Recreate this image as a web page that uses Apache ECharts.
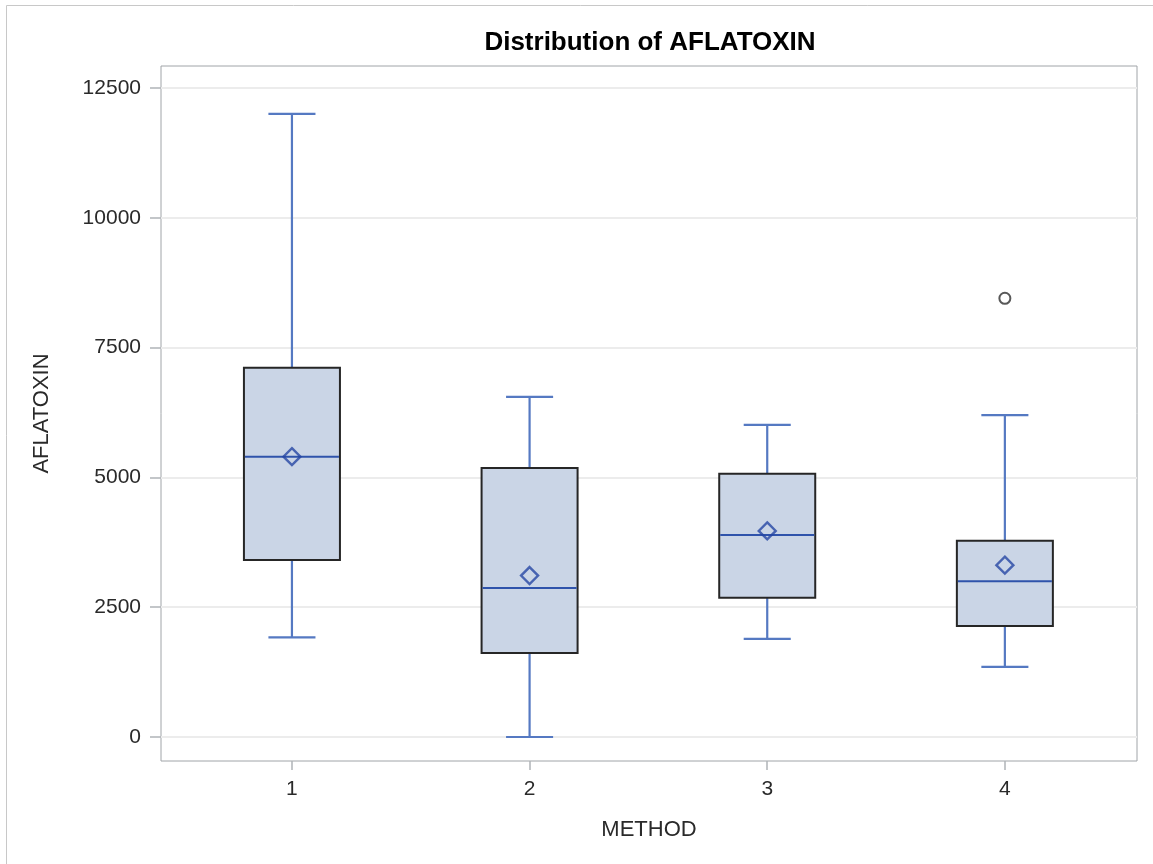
<!DOCTYPE html>
<html>
<head>
<meta charset="utf-8">
<script src="https://cdn.jsdelivr.net/npm/echarts@6/dist/echarts.min.js"></script>
<style>
html,body{margin:0;padding:0;background:#fff;}
#chart{width:1153px;height:864px;}
</style>
</head>
<body>
<div id="chart"></div>
<script>
// ---- data ----
var categories = [1, 2, 3, 4];
var whiskerLow = [1920, 0, 1890, 1350];
var q1 = [3410, 1620, 2680, 2140];
var median = [5400, 2870, 3890, 3000];
var q3 = [7110, 5180, 5070, 3780];
var whiskerHigh = [12000, 6550, 6010, 6200];
var mean = [5400, 3110, 3970, 3310];
var outlierMethod = [4];
var outlierValue = [8450];
var yTicks = [0, 2500, 5000, 7500, 10000, 12500];

var FONT = "'Liberation Sans', Arial, sans-serif";
var boxData = categories.map(function (c, i) {
  return [c, whiskerLow[i], q1[i], median[i], q3[i], whiskerHigh[i]];
});
var meanData = categories.map(function (c, i) { return [c, mean[i]]; });
var outlierData = outlierMethod.map(function (c, i) { return [c, outlierValue[i]]; });

var BOX_W = 0.404, CAP_W = 0.198;
var chart = echarts.init(document.getElementById('chart'));
chart.setOption({
  animation: false,
  backgroundColor: '#fff',
  graphic: [{
    type: 'rect', shape: {x: 6.5, y: 5.5, width: 1160, height: 870},
    style: {fill: 'none', stroke: '#c8c8c8', lineWidth: 1}, silent: true, z: -10
  }],
  title: {
    text: 'Distribution of AFLATOXIN',
    left: 645, top: 25, textAlign: 'center',
    textStyle: {fontFamily: FONT, fontSize: 26, fontWeight: 'bold', color: '#000'}
  },
  grid: {
    left: 161, top: 66, right: 16, bottom: 103,
    show: true, borderColor: '#a0a4a8', borderWidth: 1, backgroundColor: 'transparent'
  },
  xAxis: {
    type: 'value', min: 0.449, max: 4.556,
    name: 'METHOD', nameLocation: 'middle', nameGap: 58,
    nameTextStyle: {fontFamily: FONT, fontSize: 22, color: '#2a2a2a'},
    axisLine: {show: false, onZero: false},
    axisTick: {show: true, length: 9, customValues: categories, lineStyle: {color: '#b0b4b8', width: 1.5}},
    axisLabel: {customValues: categories, margin: 18, fontFamily: FONT, fontSize: 21, color: '#2a2a2a',
      formatter: function (v) { return String(Math.round(v)); }},
    splitLine: {show: false}
  },
  yAxis: {
    type: 'value', min: -462, max: 12924,
    name: 'AFLATOXIN', nameLocation: 'middle', nameGap: 108, nameRotate: 90,
    nameTextStyle: {fontFamily: FONT, fontSize: 22, color: '#2a2a2a'},
    axisLine: {show: false, onZero: false},
    axisTick: {show: true, length: 11, customValues: yTicks, lineStyle: {color: '#b0b4b8', width: 1.5}},
    axisLabel: {customValues: yTicks, margin: 20, fontFamily: FONT, fontSize: 21, color: '#2a2a2a',
      formatter: function (v) { return String(Math.round(v)); }},
    splitLine: {show: false}
  },
  series: [
    {
      type: 'line', data: [], z: 1, silent: true,
      markLine: {
        z: 1, silent: true, symbol: 'none', animation: false,
        label: {show: false},
        lineStyle: {color: '#ececec', width: 2, type: 'solid'},
        data: yTicks.map(function (v) { return {yAxis: v}; })
      }
    },
    {
      type: 'custom', z: 3,
      data: boxData,
      encode: {x: 0, y: [1, 2, 3, 4, 5]},
      renderItem: function (params, api) {
        var x = api.value(0);
        var pLow = api.coord([x, api.value(1)]);
        var pQ1 = api.coord([x, api.value(2)]);
        var pMed = api.coord([x, api.value(3)]);
        var pQ3 = api.coord([x, api.value(4)]);
        var pHigh = api.coord([x, api.value(5)]);
        var bw = api.size([BOX_W, 0])[0];
        var cw = api.size([CAP_W, 0])[0];
        var cx = pMed[0];
        var wStyle = {stroke: '#5579c2', lineWidth: 2.2};
        return {
          type: 'group',
          children: [
            {type: 'line', shape: {x1: cx, y1: pLow[1], x2: cx, y2: pQ1[1]}, style: wStyle},
            {type: 'line', shape: {x1: cx, y1: pQ3[1], x2: cx, y2: pHigh[1]}, style: wStyle},
            {type: 'line', shape: {x1: cx - cw / 2, y1: pLow[1], x2: cx + cw / 2, y2: pLow[1]}, style: wStyle},
            {type: 'line', shape: {x1: cx - cw / 2, y1: pHigh[1], x2: cx + cw / 2, y2: pHigh[1]}, style: wStyle},
            {type: 'rect', shape: {x: cx - bw / 2, y: pQ3[1], width: bw, height: pQ1[1] - pQ3[1]},
              style: {fill: '#cad5e6', stroke: '#262626', lineWidth: 2}},
            {type: 'line', shape: {x1: cx - bw / 2 + 1, y1: pMed[1], x2: cx + bw / 2 - 1, y2: pMed[1]},
              style: {stroke: '#2f53ab', lineWidth: 2}}
          ]
        };
      }
    },
    {
      type: 'scatter', z: 4, data: meanData,
      symbol: 'diamond', symbolSize: 17,
      itemStyle: {color: 'rgba(0,0,0,0)', borderColor: '#2546a4', borderWidth: 2.4}
    },
    {
      type: 'scatter', z: 4, data: outlierData,
      symbol: 'circle', symbolSize: 11,
      itemStyle: {color: '#ffffff', borderColor: '#2e2e2e', borderWidth: 2}
    }
  ]
});
</script>
</body>
</html>
